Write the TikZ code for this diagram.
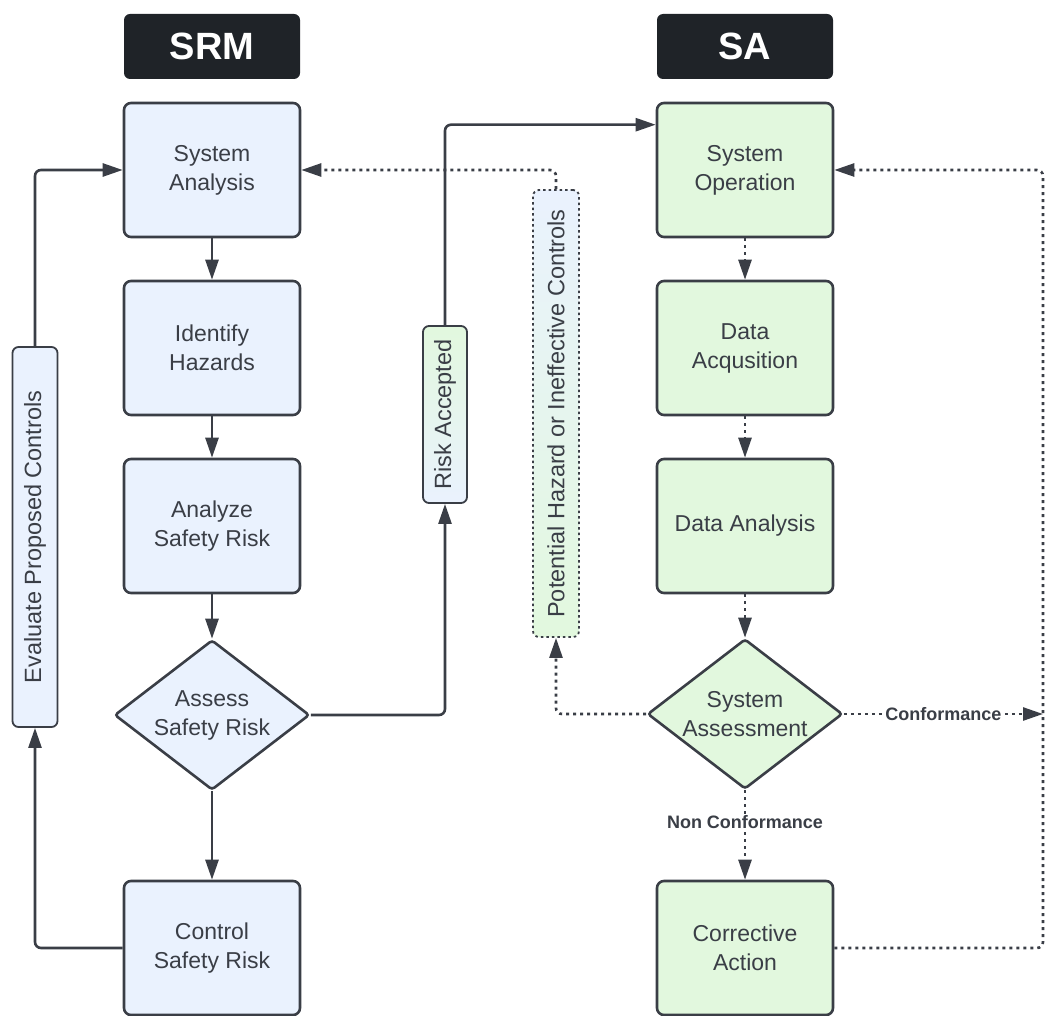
\documentclass[tikz,border=0pt]{standalone}
\usepackage{fontspec}
\setmainfont{Liberation Sans}
\usetikzlibrary{arrows.meta,shapes.geometric}
\definecolor{ink}{HTML}{3A3E46}
\definecolor{hdrblack}{HTML}{1F2328}
\definecolor{srmblue}{HTML}{EAF2FE}
\definecolor{sagreen}{HTML}{E2F8DE}
\tikzset{
  box/.style={draw=ink, line width=2.6pt, rounded corners=7pt, minimum width=176pt,
    minimum height=134pt, inner sep=0pt, align=center, text=ink,
    font=\fontsize{23}{29}\selectfont},
  srmbox/.style={box, fill=srmblue},
  sabox/.style={box, fill=sagreen},
  hdr/.style={fill=hdrblack, rounded corners=6pt, minimum width=176pt, minimum height=65pt,
    inner sep=0pt, text=white, font=\fontsize{38}{40}\selectfont\bfseries},
  dia/.style={diamond, draw=ink, line width=2.6pt, rounded corners=3pt, minimum width=195pt,
    minimum height=150pt, inner sep=0pt},
  diatext/.style={align=center, text=ink, font=\fontsize{23}{29}\selectfont},
  vbox/.style={draw=ink, line width=1.8pt, rounded corners=6pt, inner sep=0pt, minimum width=45pt},
  vtext/.style={rotate=90, inner sep=0pt, text=ink, font=\fontsize{23.5}{28}\selectfont},
  conn/.style={draw=ink, line width=2.6pt, -{Triangle[length=20pt,width=13pt]}, rounded corners=6pt},
  dotconn/.style={conn, dash pattern=on 3pt off 4pt},
  lbl/.style={fill=white, inner sep=1.5pt, text=ink, font=\fontsize{18}{20}\selectfont\bfseries}
}
\begin{document}
\begin{tikzpicture}[x=1pt,y=-1pt]
\useasboundingbox (0,0) rectangle (1057,1016);
% headers
\node[hdr] (hsrm) at (212,46.5) {SRM};
\node[hdr] (hsa) at (745,46.5) {SA};
% SRM column
\node[srmbox] (sa1) at (212,170) {System\\Analysis};
\node[srmbox] (sa2) at (212,348) {Identify\\Hazards};
\node[srmbox] (sa3) at (212,526) {Analyze\\Safety Risk};
\node[dia, fill=srmblue] (sd) at (212,715) {};
\node[diatext] (sdt) at (sd) {Assess\\Safety Risk};
\node[srmbox] (sa4) at (212,948) {Control\\Safety Risk};
% SA column
\node[sabox] (so) at (745,170) {System\\Operation};
\node[sabox] (da) at (745,348) {Data\\Acqusition};
\node[sabox] (dn) at (745,526) {Data Analysis};
\node[dia, fill=sagreen] (sd2) at (745,714) {};
\node[diatext] (sd2t) at (sd2) {System\\Assessment};
\node[sabox] (ca) at (745,948) {Corrective\\Action};
% vertical labels
\node[vbox, fill=srmblue, minimum height=380pt] (ev) at (35,537) {};
\node[vtext] (evt) at (ev) {Evaluate Proposed Controls};
\node[vbox, top color=sagreen, bottom color=srmblue, minimum height=177pt, minimum width=44pt] (ra) at (445,414.5) {};
\node[vtext] (rat) at (ra) {Risk Accepted};
\node[vbox, top color=srmblue, bottom color=sagreen, dash pattern=on 2.5pt off 3pt, minimum height=447pt, minimum width=46pt] (ph) at (556,413.5) {};
\node[vtext] (pht) at (ph) {Potential Hazard or Ineffective Controls};
\coordinate (rt) at (1043,714);
% SRM connectors
\draw[conn] (sa1.south) -- (sa2.north);
\draw[conn] (sa2.south) -- (sa3.north);
\draw[conn] (sa3.south) -- (sd.north);
\draw[conn] (sd.south) -- (sa4.north);
\draw[conn] (sa4.west) -| (ev.south);
\draw[conn] (ev.north) |- (sa1.west);
\draw[conn] (sd.east) -| (ra.south);
\draw[conn] (ra.north) |- ([yshift=-23pt]so.north west);
% SA connectors
\draw[dotconn] (so.south) -- (da.north);
\draw[dotconn] (da.south) -- (dn.north);
\draw[dotconn] (dn.south) -- (sd2.north);
\draw[dotconn] (sd2.south) -- node[lbl, pos=0.36] {Non Conformance} (ca.north);
\draw[dotconn] (sd2.east) -- node[lbl, pos=0.5] {Conformance} (rt);
\draw[dotconn] (ca.east) -- (ca.east -| rt) |- (so.east);
\draw[dotconn] (sd2.west) -| (ph.south);
\draw[dotconn] (ph.north) |- (sa1.east);
\end{tikzpicture}
\end{document}
